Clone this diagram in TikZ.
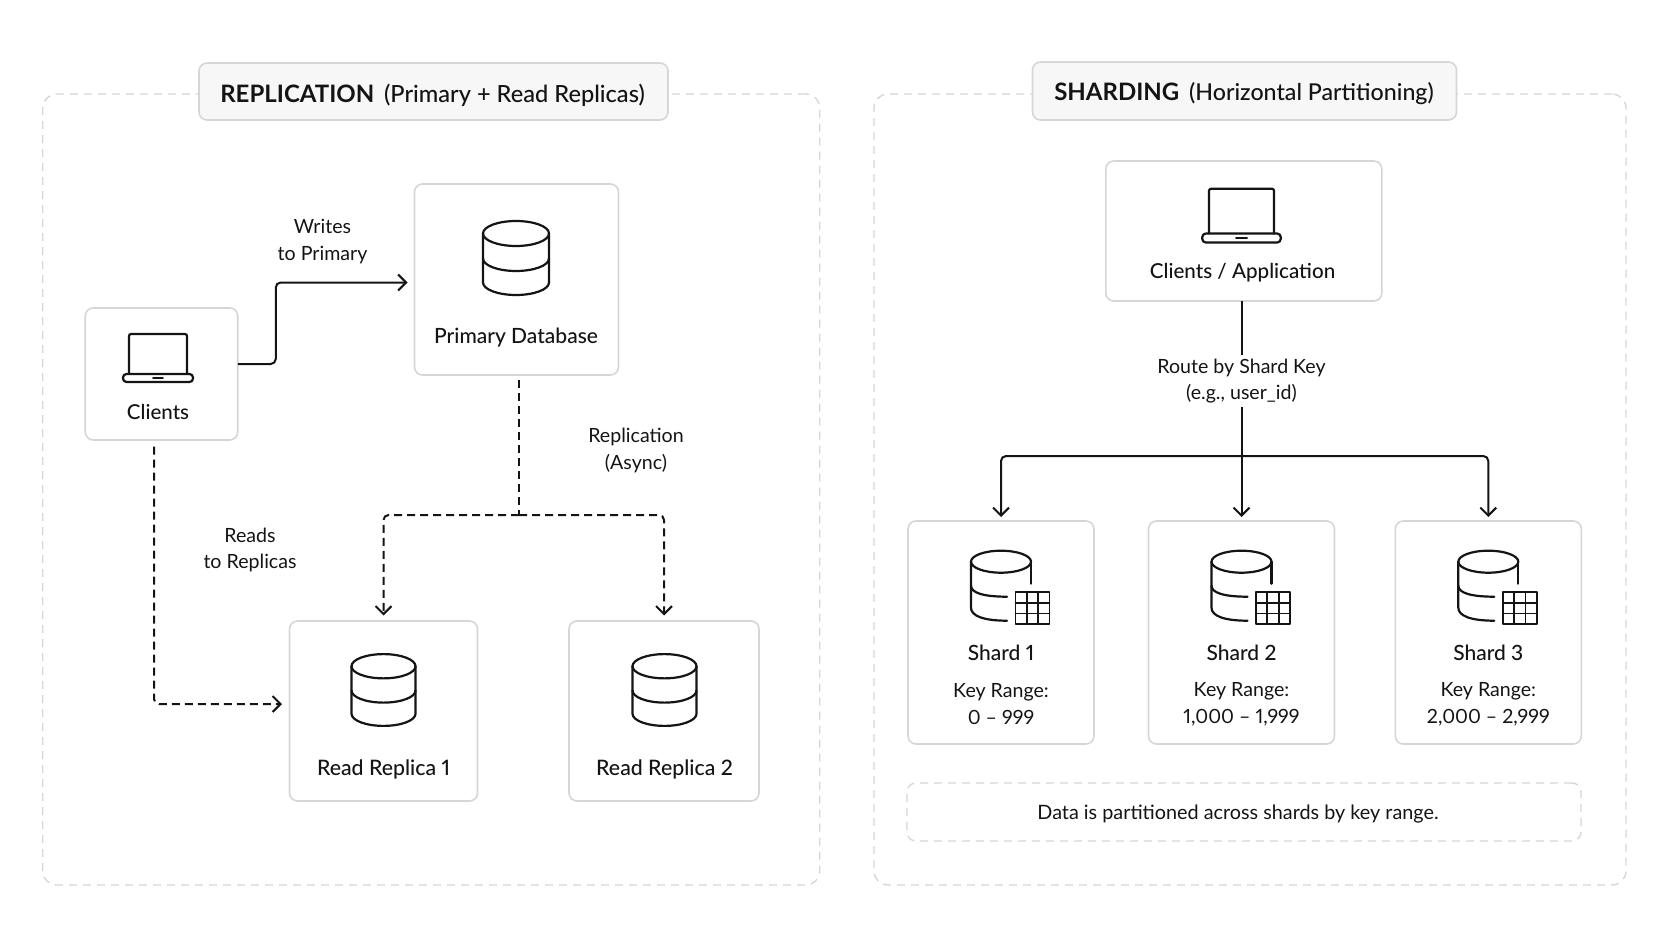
\documentclass[tikz,border=0pt]{standalone}
\usepackage{fontspec}
\setmainfont{Lato}[Numbers=Proportional]
\newfontfamily\medfont{Lato Medium}[Numbers=Proportional]
\usetikzlibrary{arrows.meta}
\definecolor{edge}{HTML}{D6D6D6}
\definecolor{ink}{HTML}{141414}

\begin{document}
\begin{tikzpicture}
[x=1pt, y=-1pt, > = {Straight Barb[length=8pt,width=16pt,line width=2pt]},
panel/.style ={rectangle, draw=edge, line width=1.4pt, dash pattern=on 8pt off 6pt,
rounded corners=14pt, inner sep=0pt, outer sep=0pt},
block/.style ={rectangle, draw=edge, line width=1.6pt, fill=white,
rounded corners=8pt, inner sep=0pt, outer sep=0pt},
titlebox/.style ={block, fill=black!3},
notebox/.style ={panel, rounded corners=9pt},
txt/.style ={text=ink, align=center, inner sep=0pt,
font=\fontsize{19.6}{26.6}\selectfont},
head/.style ={txt, font=\medfont\fontsize{21}{26.6}\selectfont},
flow/.style ={draw=ink, line width=2pt, rounded corners=5pt, ->},
dflow/.style ={flow, dash pattern=on 8pt off 5pt},
icon/.style ={draw=ink, line width=2.2pt, line cap=round, line join=round},
laptop/.pic ={
  \draw[icon, rounded corners=2pt] (-29,-8) -- (-29,-48) -- (29,-48) -- (29,-8);
  \draw[icon, rounded corners=3.5pt] (-35,-8) rectangle (35,0);
  \draw[icon, line width=1.6pt] (-5,-4) -- (5,-4);
},
dbicon/.pic ={
  \draw[icon] (0,-24.5) ellipse [x radius=33, y radius=12.5];
  \draw[icon] (-33,-24.5) -- (-33,24.5) arc [start angle=180, end angle=0, x radius=33, y radius=12.5] -- (33,-24.5);
  \draw[icon] (-33,0.5) arc [start angle=180, end angle=0, x radius=33, y radius=12.5];
},
shardicon/.pic ={
  \draw[icon] (0,0) ellipse [x radius=30, y radius=11];
  \draw[icon] (30,0) -- (30,22);
  \draw[icon] (-30,0) -- (-30,46) .. controls (-30,54) and (-18,59) .. (6,59);
  \draw[icon] (-30,24) .. controls (-30,31) and (-18,35) .. (6,35);
  \draw[icon, line width=1.8pt] (14.5,30.5) rectangle (48.5,62.5);
  \draw[icon, line width=1.8pt] (25.8,30.5) -- (25.8,62.5) (37.2,30.5) -- (37.2,62.5);
  \draw[icon, line width=1.8pt] (14.5,41.2) -- (48.5,41.2) (14.5,51.8) -- (48.5,51.8);
},
]
\useasboundingbox (0,0) rectangle (1672,941);

% panels
\node [panel, minimum width=777pt, minimum height=791pt] (leftpanel) at (431.25,489.5) {};
\node [panel, minimum width=752pt, minimum height=791pt] (rightpanel) at (1250,489.5) {};
\node [titlebox, minimum width=469pt, minimum height=57pt] (lefttitle) at (433.5,91.5) {};
\node [titlebox, minimum width=424pt, minimum height=58pt] (righttitle) at (1244.5,91) {};
\node [txt] (lefttitletxt) at (432.5,95) {\fontsize{24}{28}\selectfont\bfseries REPLICATION\ \hspace{4pt}\medfont\mdseries\fontsize{23.6}{28}\selectfont(Primary + Read Replicas)};
\node [txt] (righttitletxt) at (1244,94) {\fontsize{24}{28}\selectfont\bfseries SHARDING\ \hspace{4pt}\medfont\mdseries\fontsize{23.2}{28}\selectfont(Horizontal Partitioning)};

% replication
\node [block, minimum width=152.5pt, minimum height=132pt] (clients) at (161.5,374) {};
\node [block, minimum width=204pt, minimum height=191pt] (primary) at (516.5,279.5) {};
\node [block, minimum width=188pt, minimum height=180pt] (replicaa) at (383.5,711) {};
\node [block, minimum width=190pt, minimum height=180pt] (replicab) at (664,711) {};

\pic at (158,382) {laptop};
\pic at (516,258) {dbicon};
\pic[scale=0.97] at (383.5,690) {dbicon};
\pic[scale=0.97] at (664.5,690) {dbicon};

\node [head, font=\medfont\fontsize{20.5}{26.6}\selectfont] (clientstxt) at (158,412) {Clients};
\node [head] (primarytxt) at (516,337.5) {Primary Database};
\node [head, font=\medfont\fontsize{21.3}{26.6}\selectfont] (replicaatxt) at (383.5,769) {Read Replica 1};
\node [head, font=\medfont\fontsize{21.3}{26.6}\selectfont] (replicabtxt) at (664.5,769) {Read Replica 2};
\node [txt] (writes) at (322.5,241.5) {Writes\\to Primary};
\node [txt] (async) at (636,450.5) {Replication\\(Async)};
\node [txt] (reads) at (250,550) {Reads\\to Replicas};

\coordinate (split) at (519,515);

\draw[flow, shorten >=7pt] ([yshift=10pt]clients.east) -- ++(38,0) |- ([yshift=-3pt]primary.west);
\draw[dflow, -, shorten <=5pt] (split |- primary.south) -- (split);
\draw[dflow, shorten >=5.5pt] (split) -| (replicaa.north);
\draw[dflow, shorten >=5.5pt] (split) -| (replicab.north);
\draw[dflow, shorten <=6.5pt, shorten >=7.5pt] ([xshift=-7.5pt]clients.south) |- ([yshift=7pt]replicaa.west);

% sharding
\node [block, minimum width=276pt, minimum height=140pt] (app) at (1243.8,231) {};
\node [block, minimum width=186pt, minimum height=223pt] (sharda) at (1001,632.5) {};
\node [block, minimum width=186pt, minimum height=223pt] (shardb) at (1241.5,632.5) {};
\node [block, minimum width=186pt, minimum height=223pt] (shardc) at (1488.3,632.5) {};
\node [notebox, minimum width=674pt, minimum height=58pt] (note) at (1244,812) {};

\pic[scale=1.12] at (1241.5,242.5) {laptop};
\pic at (1001,561.7) {shardicon};
\pic at (1241.5,561.7) {shardicon};
\pic at (1488.3,561.7) {shardicon};

\node [head, font=\medfont\fontsize{20.6}{26.6}\selectfont] (apptxt) at (1242.5,272.5) {Clients / Application};
\node [txt, fill=white, inner ysep=3pt] (route) at (1241.5,381) {Route by Shard Key\\(e.g., user\_id)};
\node [head] (shardatxt) at (1001,652.5) {Shard 1};
\node [head] (shardbtxt) at (1241.5,652.5) {Shard 2};
\node [head] (shardctxt) at (1488.3,652.5) {Shard 3};
\node [txt] (rangea) at (1001,704) {Key Range:\\0 – 999};
\node [txt] (rangeb) at (1241.5,704) {Key Range:\\1,000 – 1,999};
\node [txt] (rangec) at (1488.3,704) {Key Range:\\2,000 – 2,999};
\node [txt, font=\fontsize{19.8}{26.6}\selectfont] (notetxt) at (1238,814) {Data is partitioned across shards by key range.};

\coordinate (bus) at (1241.5,456);

\draw[flow, -] (route |- app.south) -- ++(0,6.5) -- (route.north);
\draw[flow, shorten >=4pt] (route.south) -- (shardb.north);
\draw[flow, shorten >=4pt] (bus) -| (sharda.north);
\draw[flow, shorten >=4pt] (bus) -| (shardc.north);
\end{tikzpicture}
\end{document}
